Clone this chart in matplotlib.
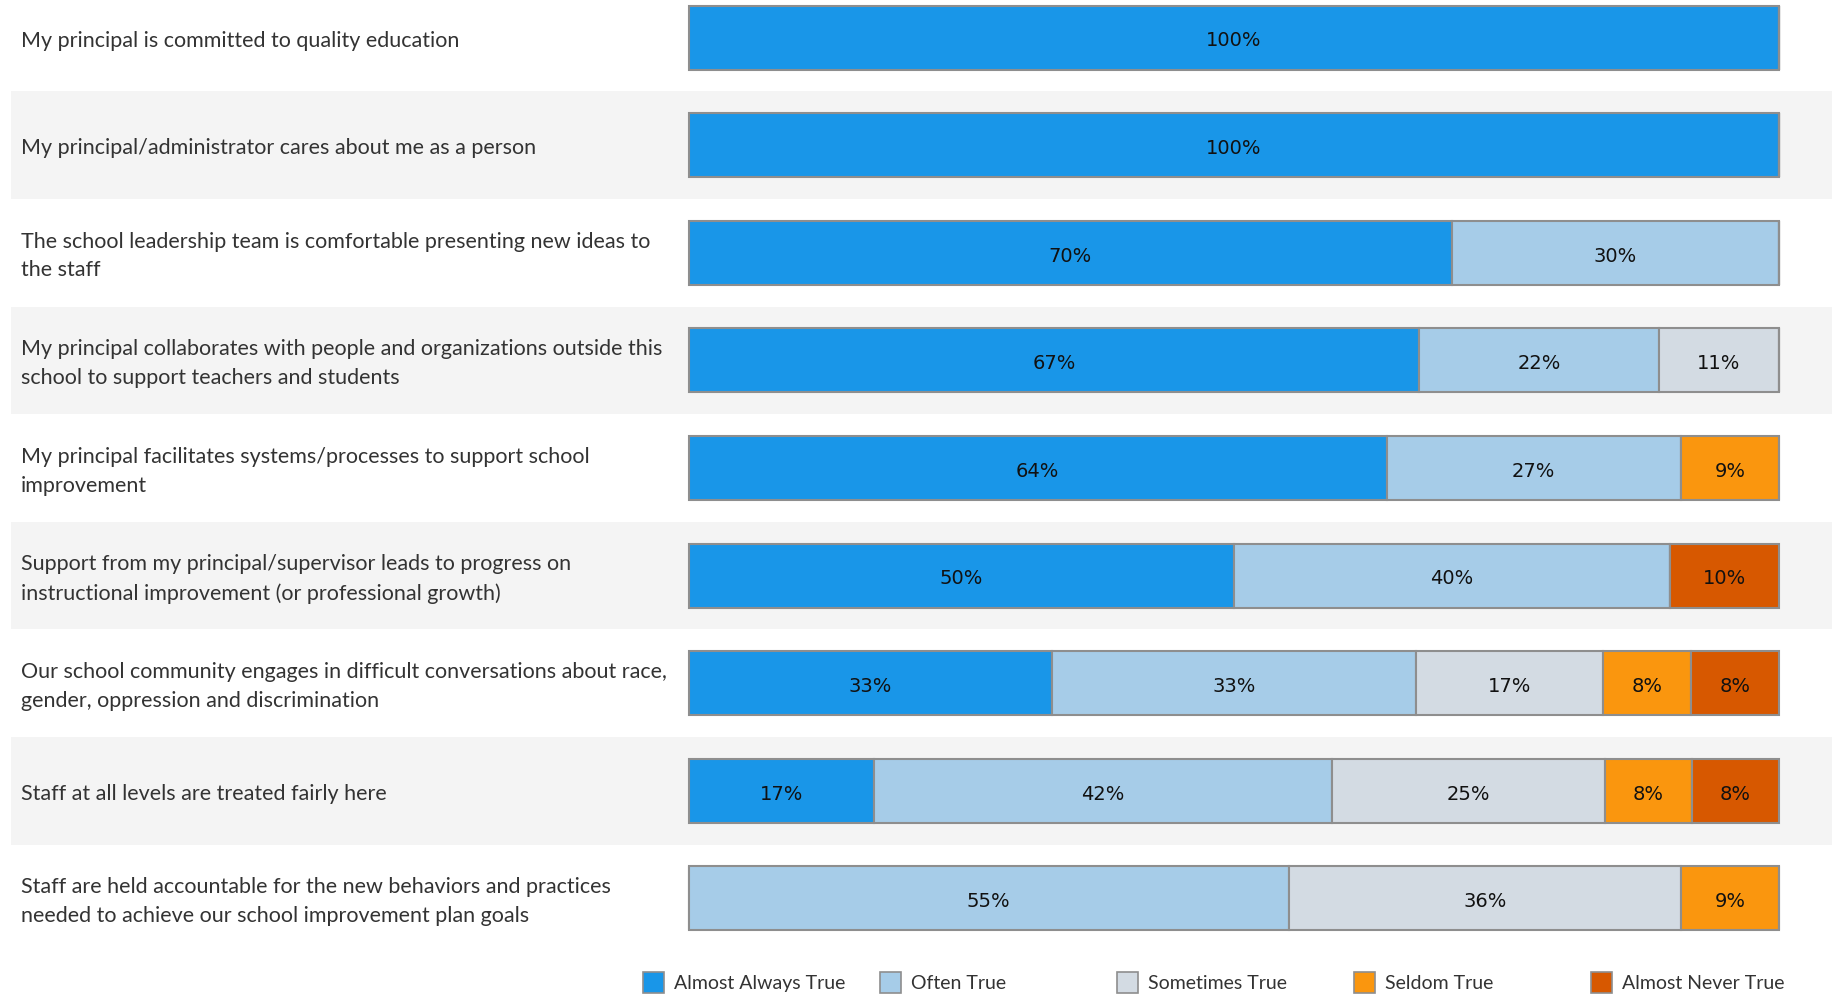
import matplotlib
matplotlib.use("Agg")
import matplotlib.pyplot as plt
from matplotlib.patches import Rectangle
import numpy as np

QUESTIONS = [
    "My principal is committed to quality education",
    "My principal/administrator cares about me as a person",
    "The school leadership team is comfortable presenting new ideas to\nthe staff",
    "My principal collaborates with people and organizations outside this\nschool to support teachers and students",
    "My principal facilitates systems/processes to support school\nimprovement",
    "Support from my principal/supervisor leads to progress on\ninstructional improvement (or professional growth)",
    "Our school community engages in difficult conversations about race,\ngender, oppression and discrimination",
    "Staff at all levels are treated fairly here",
    "Staff are held accountable for the new behaviors and practices\nneeded to achieve our school improvement plan goals",
]
RESPONSES = ["Almost Always True", "Often True", "Sometimes True", "Seldom True", "Almost Never True"]
almost_always = [100, 100, 70, 67, 64, 50, 33, 17, 0]
often = [0, 0, 30, 22, 27, 40, 33, 42, 55]
sometimes = [0, 0, 0, 11, 0, 0, 17, 25, 36]
seldom = [0, 0, 0, 0, 9, 0, 8, 8, 9]
almost_never = [0, 0, 0, 0, 0, 10, 8, 8, 0]
COLORS = ["#1996E8", "#A6CCE8", "#D3DBE3", "#FA960E", "#D75800"]

W, H = 1832, 995
fig = plt.figure(figsize=(W / 100, H / 100), dpi=100)
fig.patch.set_facecolor("white")

# axes spans from the band's left edge to the right edge; bars map 0..100 -> px 689..1779
left_px, bar0, bar1 = 10.5, 689, 1779
ppu = (bar1 - bar0) / 100.0
ax = fig.add_axes([left_px / W, 0, 1 - left_px / W, 1])
ax.set_xlim(-(bar0 - left_px) / ppu, 100 + (W - bar1) / ppu)
pitch, c0 = 107.6, 38.5
ax.set_ylim((H - c0) / pitch, -c0 / pitch)
ax.axis("off")

data = np.array([almost_always, often, sometimes, seldom, almost_never], float)
shares = data / data.sum(axis=0) * 100
n = len(QUESTIONS)
bh = 64 / pitch
dy = 0.022  # nudge text down so it sits visually centred on the bar

for i in range(n):
    if i % 2 == 1:
        ax.axhspan(i - 0.5, i + 0.5, color="#F4F4F4", zorder=0, lw=0)
    ax.text(-(bar0 - 21) / ppu, i + dy, QUESTIONS[i], ha="left", va="center",
            fontsize=15.5, family="Lato", color="#333333", linespacing=1.55)

left = np.zeros(n)
for k in range(len(RESPONSES)):
    ax.barh(np.arange(n), shares[k], left=left, height=bh, color=COLORS[k],
            edgecolor="#8E8E8E", linewidth=1.5, zorder=2)
    for i in range(n):
        if data[k, i] > 0:
            ax.text(left[i] + shares[k, i] / 2, i + dy, f"{data[k, i]:.0f}%",
                    ha="center", va="center", fontsize=14, color="#111111", zorder=3)
    left += shares[k]

# legend row along the bottom
for k, (name, col) in enumerate(zip(RESPONSES, COLORS)):
    x = 643 + k * 237
    fig.patches.append(Rectangle((x / W, (H - 994) / H), 21 / W, 21 / H,
                                 transform=fig.transFigure, facecolor=col,
                                 edgecolor="#8E8E8E", lw=1.2))
    fig.text((x + 31) / W, (H - 984) / H, name, ha="left", va="center",
             fontsize=14, family="Lato", color="#333333")

fig.savefig("out.png", dpi=100)
